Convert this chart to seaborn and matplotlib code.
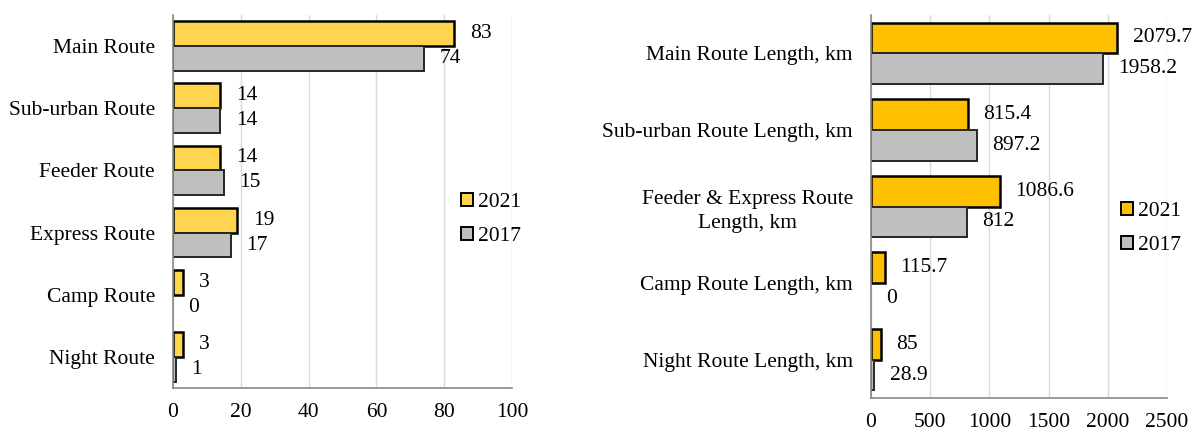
import matplotlib
matplotlib.use("Agg")
import matplotlib.pyplot as plt
import seaborn as sns
import pandas as pd

# ---- data ----
left_categories = ["Main Route", "Sub-urban Route", "Feeder Route", "Express Route", "Camp Route", "Night Route"]
left_2021 = [83, 14, 14, 19, 3, 3]
left_2017 = [74, 14, 15, 17, 0, 1]

right_categories = ["Main Route Length, km", "Sub-urban Route Length, km",
                    "Feeder & Express Route\nLength, km", "Camp Route Length, km", "Night Route Length, km"]
right_2021 = [2079.7, 815.4, 1086.6, 115.7, 85]
right_2017 = [1958.2, 897.2, 812, 0, 28.9]

years = ["2021", "2017"]
left_ticks = [0, 20, 40, 60, 80, 100]
right_ticks = [0, 500, 1000, 1500, 2000, 2500]

sns.set_style("white")
plt.rcParams["font.family"] = ["Liberation Serif", "DejaVu Serif"]
plt.rcParams["text.color"] = "black"
FS = 15.5

W, H = 1192, 432
fig = plt.figure(figsize=(W / 100, H / 100), dpi=100)


def px_axes(x0, x1, y0, y1):
    return fig.add_axes([x0 / W, 1 - y1 / H, (x1 - x0) / W, (y1 - y0) / H])


def make_df(cats, v21, v17):
    rows = []
    for c, a, b in zip(cats, v21, v17):
        rows.append({"cat": c, "year": "2021", "value": a})
        rows.append({"cat": c, "year": "2017", "value": b})
    return pd.DataFrame(rows)


def draw(ax, cats, v21, v17, yellow, ticks, xmax, legend_xy):
    df = make_df(cats, v21, v17)
    sns.barplot(data=df, x="value", y="cat", hue="year", hue_order=years, order=cats,
                palette={"2021": yellow, "2017": "#BFBFBF"}, orient="h", width=0.8,
                ax=ax, saturation=1, legend=True)
    edges = {0: ("black", 1.8), 1: ("#262626", 1.4)}
    for i, cont in enumerate(ax.containers):
        ec, lw = edges[i]
        for p in cont.patches:
            p.set_edgecolor(ec)
            p.set_linewidth(lw if p.get_width() > 0 else 0)
        ax.bar_label(cont, labels=[f"{v:g}" for v in cont.datavalues], padding=11,
                     fontsize=FS, color="black")
    ax.set_xlim(0, xmax)
    ax.set_xticks(ticks)
    ax.set_xlabel("")
    ax.set_ylabel("")
    ax.grid(axis="x", color="#D9D9D9", linewidth=1)
    ax.set_axisbelow(True)
    for s in ["top", "right"]:
        ax.spines[s].set_visible(False)
    for s in ["left", "bottom"]:
        ax.spines[s].set_color("#898989")
        ax.spines[s].set_linewidth(1.2)
    ax.tick_params(axis="x", direction="in", length=5, color="#898989", width=1.2,
                   labelsize=FS, pad=11, labelcolor="black")
    ax.tick_params(axis="y", length=0, labelsize=FS, pad=13, labelcolor="black")
    for lab in ax.get_yticklabels():
        lab.set_multialignment("center")
        lab.set_linespacing(1.35)
    handles, labels = ax.get_legend_handles_labels()
    for h in handles:
        h.set_edgecolor("black")
        h.set_linewidth(1.4)
    ax.legend(handles, labels, loc="center left", bbox_to_anchor=legend_xy,
              bbox_transform=fig.transFigure, frameon=False, fontsize=FS,
              handlelength=0.55, handleheight=0.55, handletextpad=0.25,
              labelspacing=0.7, borderpad=0, borderaxespad=0)


ax1 = px_axes(173, 512, 15, 388)
draw(ax1, left_categories, left_2021, left_2017, "#FFD550", left_ticks, 100,
     (461 / W, 1 - 219.5 / H))

ax2 = px_axes(871, 1167, 15, 398)
draw(ax2, right_categories, right_2021, right_2017, "#FFC000", right_ticks, 2500,
     (1121 / W, 1 - 228.5 / H))

fig.savefig("out.png", dpi=100)
